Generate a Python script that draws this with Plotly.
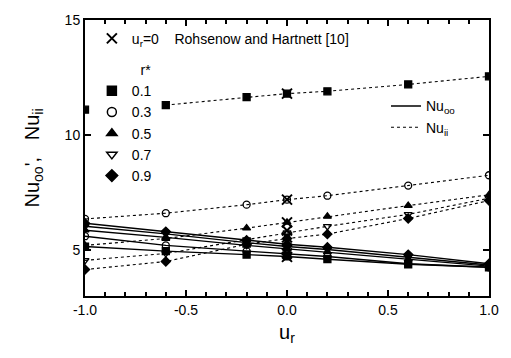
import plotly.graph_objects as go

u_r = [-1.0, -0.6, -0.2, 0.0, 0.2, 0.6, 1.0]
r_star = ["0.1", "0.3", "0.5", "0.7", "0.9"]

nu_ii = {
    "0.1": [11.1, 11.3, 11.65, 11.8, 11.9, 12.2, 12.55],
    "0.3": [6.35, 6.6, 6.97, 7.19, 7.36, 7.8, 8.25],
    "0.5": [5.2, 5.5, 5.95, 6.2, 6.46, 6.93, 7.4],
    "0.7": [4.55, 4.85, 5.45, 5.75, 6.03, 6.55, 7.25],
    "0.9": [4.15, 4.5, 5.25, 5.5, 5.69, 6.37, 7.15],
}
nu_oo = {
    "0.1": [5.15, 4.95, 4.8, 4.72, 4.6, 4.38, 4.25],
    "0.3": [5.6, 5.2, 4.95, 4.85, 4.72, 4.4, 4.25],
    "0.5": [5.86, 5.55, 5.2, 5.05, 4.92, 4.6, 4.3],
    "0.7": [6.03, 5.7, 5.32, 5.15, 5.02, 4.7, 4.35],
    "0.9": [6.16, 5.8, 5.42, 5.25, 5.12, 4.8, 4.4],
}
rohsenow_y = [11.8, 7.19, 6.2, 5.85, 5.55, 5.0, 4.85, 4.7]

symbols = {"0.1": "square", "0.3": "circle-open", "0.5": "triangle-up",
           "0.7": "triangle-down-open", "0.9": "diamond"}

fig = go.Figure()
K = "black"
for r in r_star:
    mk = dict(symbol=symbols[r], size=7, color=K, line=dict(color=K, width=1.3))
    fig.add_trace(go.Scatter(x=u_r, y=nu_oo[r], mode="lines+markers",
                             line=dict(color=K, width=1.4), marker=mk, showlegend=False))
    if r == "0.1":
        fig.add_trace(go.Scatter(x=u_r[:1], y=nu_ii[r][:1], mode="markers",
                                 marker=mk, showlegend=False))
        fig.add_trace(go.Scatter(x=u_r[1:], y=nu_ii[r][1:], mode="lines+markers",
                                 line=dict(color=K, width=1.1, dash="dot"), marker=mk,
                                 showlegend=False))
    else:
        fig.add_trace(go.Scatter(x=u_r, y=nu_ii[r], mode="lines+markers",
                                 line=dict(color=K, width=1.1, dash="dot"), marker=mk,
                                 showlegend=False))

fig.add_trace(go.Scatter(x=[0.0] * len(rohsenow_y), y=rohsenow_y, mode="markers",
                         marker=dict(symbol="x-thin-open", size=10, color=K,
                                     line=dict(color=K, width=2)),
                         name="u<sub>r</sub>=0    Rohsenow and Hartnett [10]",
                         legend="legend"))

for r in r_star:
    fig.add_trace(go.Scatter(x=[None], y=[None], mode="markers",
                             marker=dict(symbol=symbols[r], size=9, color=K,
                                         line=dict(color=K, width=1.5)),
                             name=r, legend="legend2"))

fig.add_trace(go.Scatter(x=[None], y=[None], mode="lines", line=dict(color=K, width=1.4),
                         name="Nu<sub>oo</sub>", legend="legend3"))
fig.add_trace(go.Scatter(x=[None], y=[None], mode="lines",
                         line=dict(color=K, width=1.1, dash="dot"),
                         name="Nu<sub>ii</sub>", legend="legend3"))

font = dict(family="Liberation Sans, Arial", size=14, color=K)
leg_common = dict(bgcolor="rgba(0,0,0,0)", borderwidth=0, font=font,
                  xanchor="left", yanchor="top", tracegroupgap=0)

fig.update_layout(
    width=511, height=358,
    margin=dict(l=85, r=15, t=14, b=62),
    paper_bgcolor="white", plot_bgcolor="white",
    font=font,
    legend=dict(x=0.017, y=0.99, **leg_common),
    legend2=dict(x=0.017, y=0.866,
                 title=dict(text="\u00a0" * 12 + "r*", side="top", font=font),
                 **leg_common),
    legend3=dict(x=0.745, y=0.745, **leg_common),
    xaxis=dict(range=[-1.0, 1.0], tickvals=[-1.0, -0.5, 0.0, 0.5, 1.0],
               ticktext=["-1.0", "-0.5", "0.0", "0.5", "1.0"],
               ticks="inside", ticklen=6, tickwidth=1.5, tickcolor=K,
               minor=dict(dtick=0.1, ticks="inside", ticklen=4, tickcolor=K),
               showline=True, linecolor=K, linewidth=2, mirror="allticks",
               showgrid=False, zeroline=False,
               title=dict(text="u<sub>r</sub>", font=dict(size=20), standoff=8)),
    yaxis=dict(range=[3, 15], tickvals=[5, 10, 15],
               ticks="inside", ticklen=6, tickwidth=1.5, tickcolor=K,
               showline=True, linecolor=K, linewidth=2, mirror="allticks",
               showgrid=False, zeroline=False,
               title=dict(text="Nu<sub>oo</sub>',   Nu<sub>ii</sub>", font=dict(size=20),
                          standoff=20)),
)

fig.write_html("out.html")
